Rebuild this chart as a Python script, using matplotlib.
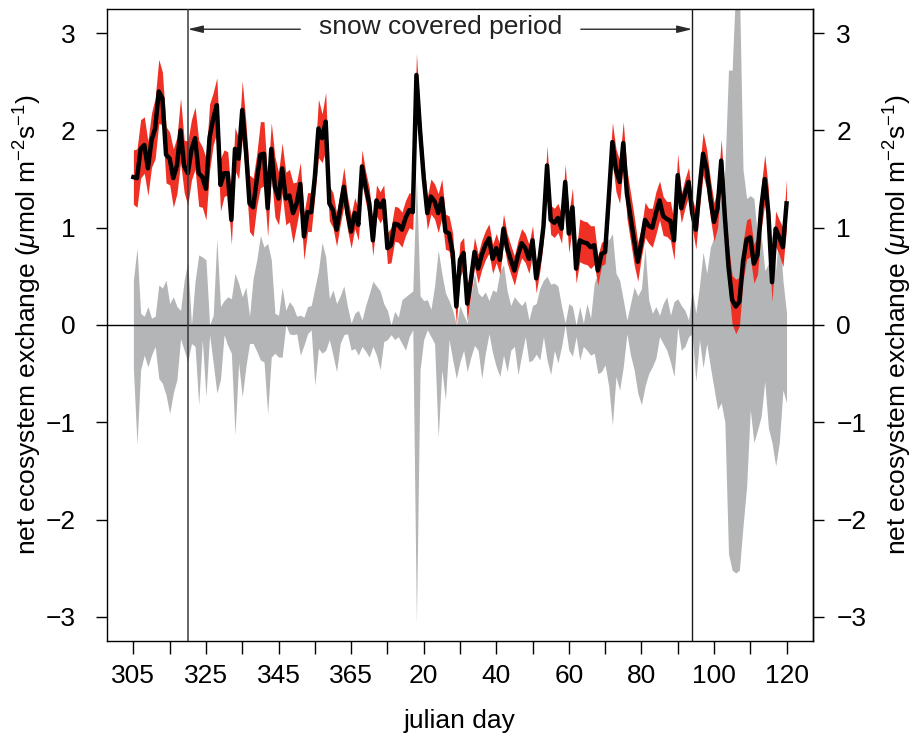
import numpy as np
import matplotlib
matplotlib.use('Agg')
import matplotlib.pyplot as plt
from matplotlib.ticker import FixedLocator, FixedFormatter, NullFormatter

plt.rcParams['font.family'] = ['Liberation Sans', 'DejaVu Sans']
plt.rcParams['mathtext.fontset'] = 'custom'
plt.rcParams['mathtext.rm'] = 'Liberation Sans'
plt.rcParams['mathtext.it'] = 'Liberation Sans:italic'

# julian days on the x axis (Nov -> Apr)
days = list(range(305, 366)) + list(range(1, 121))

# daily net ecosystem exchange (black line)
nee = [1.52, 1.51, 1.81, 1.85, 1.61, 1.90, 2.02, 2.40, 2.33, 1.75,
       1.71, 1.51, 1.64, 2.00, 1.63, 1.56, 1.80, 1.92, 1.56, 1.52,
       1.40, 1.93, 2.12, 2.26, 1.44, 1.56, 1.56, 1.08, 1.81, 1.71,
       2.21, 1.80, 1.25, 1.21, 1.49, 1.75, 1.76, 1.20, 1.81, 1.42,
       1.30, 1.61, 1.30, 1.33, 1.15, 1.25, 1.45, 0.91, 1.16, 1.16,
       1.52, 2.02, 1.92, 2.09, 1.25, 1.18, 0.98, 1.20, 1.42, 1.15,
       0.96, 1.15, 1.03, 1.63, 1.42, 1.25, 0.87, 1.28, 1.21, 1.28,
       0.79, 0.82, 1.04, 1.03, 0.98, 1.10, 1.18, 1.16, 2.57, 2.00,
       1.52, 1.15, 1.32, 1.27, 1.15, 1.30, 0.96, 0.94, 0.74, 0.19,
       0.67, 0.74, 0.22, 0.46, 0.75, 0.58, 0.72, 0.82, 0.89, 0.68,
       0.79, 0.67, 0.99, 0.79, 0.67, 0.56, 0.72, 0.84, 0.79, 0.68,
       0.87, 0.48, 0.70, 1.01, 1.64, 1.08, 1.05, 1.10, 0.99, 1.47,
       0.94, 1.21, 0.58, 0.87, 0.85, 0.84, 0.80, 0.82, 0.56, 0.73,
       0.75, 1.30, 1.88, 1.59, 1.47, 1.87, 1.35, 1.11, 0.87, 0.65,
       0.85, 1.08, 1.02, 1.00, 1.15, 1.28, 1.12, 1.09, 1.07, 0.87,
       1.54, 1.20, 1.35, 1.47, 1.15, 0.98, 1.40, 1.76, 1.60, 1.30,
       1.06, 1.20, 1.69, 1.11, 0.60, 0.26, 0.19, 0.24, 0.65, 0.88,
       0.90, 0.63, 0.72, 1.20, 1.50, 1.15, 0.44, 0.99, 0.90, 0.80,
       1.25]

# half-width of the red uncertainty band
band = [0.28, 0.30, 0.30, 0.29, 0.28, 0.28, 0.31, 0.33, 0.27, 0.29,
        0.27, 0.30, 0.29, 0.33, 0.27, 0.33, 0.31, 0.32, 0.34, 0.31,
        0.32, 0.34, 0.27, 0.28, 0.27, 0.24, 0.22, 0.25, 0.22, 0.21,
        0.30, 0.29, 0.29, 0.30, 0.27, 0.34, 0.33, 0.29, 0.27, 0.31,
        0.27, 0.26, 0.27, 0.27, 0.31, 0.22, 0.22, 0.24, 0.20, 0.20,
        0.20, 0.30, 0.25, 0.30, 0.18, 0.18, 0.17, 0.17, 0.20, 0.17,
        0.17, 0.16, 0.16, 0.17, 0.16, 0.16, 0.16, 0.16, 0.16, 0.16,
        0.16, 0.18, 0.18, 0.18, 0.18, 0.18, 0.18, 0.18, 0.22, 0.18,
        0.18, 0.17, 0.18, 0.18, 0.20, 0.20, 0.18, 0.18, 0.20, 0.18,
        0.18, 0.16, 0.18, 0.15, 0.15, 0.15, 0.15, 0.15, 0.15, 0.15,
        0.15, 0.15, 0.15, 0.15, 0.15, 0.15, 0.15, 0.15, 0.15, 0.15,
        0.15, 0.15, 0.15, 0.15, 0.20, 0.15, 0.15, 0.15, 0.15, 0.18,
        0.20, 0.20, 0.15, 0.22, 0.22, 0.22, 0.22, 0.20, 0.15, 0.12,
        0.12, 0.20, 0.20, 0.22, 0.22, 0.22, 0.25, 0.25, 0.25, 0.20,
        0.15, 0.18, 0.18, 0.20, 0.22, 0.20, 0.20, 0.18, 0.20, 0.20,
        0.22, 0.15, 0.15, 0.15, 0.15, 0.20, 0.20, 0.22, 0.20, 0.20,
        0.20, 0.20, 0.22, 0.20, 0.22, 0.25, 0.28, 0.25, 0.20, 0.20,
        0.20, 0.20, 0.20, 0.22, 0.25, 0.25, 0.20, 0.18, 0.18, 0.20,
        0.25]

# grey envelope (upper and lower limits)
grey_hi = [0.46, 0.79, 0.12, 0.09, 0.19, 0.07, 0.09, 0.41, 0.38, 0.46,
           0.22, 0.29, 0.19, 0.15, 0.46, 0.65, 0.00, 0.45, 0.72, 0.70,
           0.67, 0.00, 0.10, 0.89, 0.19, 0.25, 0.29, 0.27, 0.53, 0.43,
           0.29, 0.39, 0.09, 0.48, 0.67, 0.92, 0.80, 0.84, 0.67, 0.12,
           0.10, 0.39, 0.15, 0.24, 0.19, 0.09, 0.10, 0.08, 0.19, 0.20,
           0.38, 0.56, 0.85, 0.70, 0.27, 0.36, 0.22, 0.30, 0.40, 0.19,
           0.02, 0.12, 0.15, 0.05, 0.20, 0.32, 0.45, 0.40, 0.35, 0.22,
           0.15, 0.00, 0.14, 0.08, 0.26, 0.29, 0.32, 0.35, 1.52, 0.30,
           0.25, 0.26, 0.16, 0.40, 0.77, 0.53, 0.33, 0.25, 0.15, 0.00,
           0.20, 0.10, 0.02, 0.30, 0.53, 0.33, 0.29, 0.34, 0.25, 0.36,
           0.34, 0.55, 0.62, 0.35, 0.20, 0.29, 0.24, 0.20, 0.25, 0.05,
           0.20, 0.22, 0.38, 0.46, 0.50, 0.42, 0.43, 0.40, 0.19, 0.02,
           0.22, 0.19, 0.00, 0.19, 0.02, 0.22, 0.07, 0.43, 0.53, 0.70,
           0.94, 0.87, 0.94, 0.53, 0.46, 0.26, 0.05, 0.22, 0.39, 0.30,
           0.37, 0.80, 0.26, 0.12, 0.19, 0.10, 0.22, 0.29, 0.10, 0.24,
           0.27, 0.20, 0.15, 0.05, 0.36, 0.12, 0.40, 0.75, 0.53, 0.80,
           0.90, 1.14, 1.30, 1.60, 2.62, 2.62, 3.50, 3.50, 1.60, 1.30,
           1.33, 1.30, 0.90, 0.94, 0.56, 0.63, 0.94, 0.56, 1.00, 0.46,
           0.12]

grey_lo = [-0.45, -1.23, -0.46, -0.31, -0.43, -0.31, -0.22, -0.55, -0.60, -0.72,
           -0.91, -0.70, -0.56, -0.14, -0.26, -0.38, -0.19, -0.22, -0.82, -0.15,
           -0.74, -0.10, -0.39, -0.70, -0.56, -0.10, -0.21, -0.29, -1.13, -0.39,
           -0.74, -0.43, -0.19, -0.19, -0.27, -0.36, -0.38, -0.91, -0.33, -0.29,
           -0.33, -0.33, 0.00, -0.09, -0.10, -0.09, -0.31, -0.21, -0.09, -0.05,
           -0.62, -0.24, -0.29, -0.26, -0.15, -0.31, -0.48, -0.19, -0.10, -0.09,
           -0.26, -0.24, -0.31, -0.22, -0.27, -0.33, -0.22, -0.31, -0.46, -0.17,
           -0.15, -0.10, -0.15, -0.12, -0.19, -0.26, -0.12, -0.05, -3.06, -0.46,
           -0.15, -0.05, -0.12, -0.19, -1.16, -0.46, -0.77, -0.15, -0.36, -0.55,
           -0.38, -0.26, -0.48, -0.33, -0.21, -0.26, -0.55, -0.29, -0.09, -0.29,
           -0.43, -0.53, -0.31, -0.48, -0.26, -0.22, -0.51, -0.31, -0.12, -0.38,
           -0.36, -0.30, -0.36, -0.12, -0.36, -0.51, -0.26, -0.39, -0.22, 0.00,
           -0.26, -0.32, -0.12, -0.36, -0.22, -0.26, -0.31, -0.29, -0.50, -0.48,
           -0.41, -0.63, -1.03, -0.53, -0.67, -0.43, -0.09, -0.31, -0.46, -0.70,
           -0.82, -0.63, -0.50, -0.43, -0.34, -0.12, -0.19, -0.26, -0.38, -0.53,
           -0.02, -0.26, -0.22, -0.12, -0.09, -0.58, -0.15, -0.44, -0.19, -0.43,
           -0.65, -0.87, -0.80, -1.00, -2.35, -2.52, -2.55, -2.52, -2.07, -1.66,
           -0.87, -1.21, -1.08, -0.94, -0.58, -1.06, -1.21, -1.45, -1.21, -0.67,
           -0.80]

major_tick_days = [305, 325, 345, 365, 20, 40, 60, 80, 100, 120]
minor_tick_days = [315, 335, 355, 10, 30, 50, 70, 90, 110]
y_ticks = [-3, -2, -1, 0, 1, 2, 3]
snow_start, snow_end = 320, 94
label_text = 'snow covered period'
ylab = r'net ecosystem exchange ($\mu$mol m$^{-2}$s$^{-1}$)'

RED = '#ee3124'
GREY = '#b3b5b6'
FS = 19

x = np.arange(len(days))
nee_a = np.array(nee)
band_a = np.array(band)
pos = {d: i for i, d in enumerate(days)}

fig = plt.figure(figsize=(9.16, 7.37), dpi=100)
ax = fig.add_axes([0.1171, 0.1307, 0.7701, 0.8567])

ax.fill_between(x, grey_lo, grey_hi, color=GREY, lw=0, zorder=1)
ax.fill_between(x, nee_a - band_a, nee_a + band_a, color=RED, lw=0, zorder=2)
ax.plot(x, nee_a, color='black', lw=3.2, solid_joinstyle='round', zorder=3)

ax.axhline(0, color='black', lw=1.0, zorder=4)
ax.axvline(pos[snow_start], color='#3a3a3a', lw=1.1, zorder=4)
ax.axvline(pos[snow_end], color='#1a1a1a', lw=1.0, zorder=4)

ax.set_xlim(-7.2, 187.2)
ax.set_ylim(-3.245, 3.245)

# snow covered period annotation
ymark = 3.04
txt_x = 84.6
apro = dict(arrowstyle='-|>,head_length=0.9,head_width=0.22', color='#2a2a2a',
            lw=1.0, shrinkA=0, shrinkB=0)
ax.annotate('', xy=(pos[snow_start], ymark), xytext=(46.0, ymark), arrowprops=apro, zorder=5)
ax.annotate('', xy=(pos[snow_end], ymark), xytext=(123.3, ymark), arrowprops=apro, zorder=5)
ax.text(txt_x, ymark + 0.02, label_text, ha='center', va='center', fontsize=FS, color='#222222')

# axes styling
for s in ax.spines.values():
    s.set_linewidth(1.0)
ax.xaxis.set_major_locator(FixedLocator([pos[d] for d in major_tick_days]))
ax.xaxis.set_major_formatter(FixedFormatter([str(d) for d in major_tick_days]))
ax.xaxis.set_minor_locator(FixedLocator([pos[d] for d in minor_tick_days]))
ax.xaxis.set_minor_formatter(NullFormatter())
ax.set_yticks(y_ticks)
ax.set_yticklabels(['\u22123', '\u22122', '\u22121', '0', '1', '2', '3'])
ax.tick_params(axis='x', which='both', direction='out', length=9, width=1.0,
               labelsize=FS, pad=8)
ax.tick_params(axis='y', which='both', direction='out', length=8, width=1.0,
               labelsize=FS, pad=15)

sec = ax.secondary_yaxis('right')
sec.set_yticks(y_ticks)
sec.set_yticklabels(['\u22123', '\u22122', '\u22121', '0', '1', '2', '3'])
sec.tick_params(direction='out', length=8, width=1.0, labelsize=FS, pad=9)
sec.spines['right'].set_linewidth(1.0)

fig.text(0.502, 1 - 721 / 737, 'julian day', ha='center', va='center', fontsize=FS)
fig.text(27.5 / 916, 1 - 325 / 737, ylab, rotation=90, ha='center', va='center', fontsize=FS)
fig.text(897.5 / 916, 1 - 325 / 737, ylab, rotation=90, ha='center', va='center', fontsize=FS)

fig.savefig('out.png', dpi=100)
